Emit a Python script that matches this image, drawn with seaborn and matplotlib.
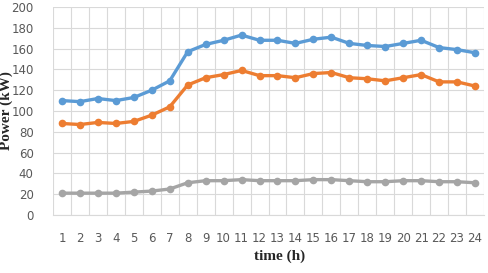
import pandas as pd
import seaborn as sns
import matplotlib.pyplot as plt
import numpy as np

hours = list(range(1, 25))
blue = [110, 109, 112, 110, 113, 120, 129, 157, 164, 168, 173, 168,
        168, 165, 169, 171, 165, 163, 162, 165, 168, 161, 159, 156]
orange = [88, 87, 89, 88, 90, 96, 104, 125, 132, 135, 139, 134,
          134, 132, 136, 137, 132, 131, 129, 132, 135, 128, 128, 124]
grey = [21, 21, 21, 21, 22, 23, 25, 31, 33, 33, 34, 33,
        33, 33, 34, 34, 33, 32, 32, 33, 33, 32, 32, 31]

df = pd.DataFrame({
    "hour": hours * 3,
    "power": blue + orange + grey,
    "series": ["a"] * 24 + ["b"] * 24 + ["c"] * 24,
})

sns.set_style("white")
fig = plt.figure(figsize=(4.88, 2.73), dpi=100)
ax = fig.add_axes([53 / 488, 1 - 215 / 273, 431 / 488, 208 / 273])

sns.lineplot(
    data=df, x="hour", y="power", hue="series",
    palette=["#5B9BD5", "#ED7D31", "#A5A5A5"],
    marker="o", markersize=5.5, markeredgewidth=0, linewidth=2.4,
    legend=False, ax=ax, zorder=3,
)

ax.set_xlim(0.5, 24.5)
ax.set_ylim(0, 200)
ax.set_yticks(range(0, 201, 20))
ax.set_xticks(hours)
ax.set_xticks(np.arange(0.5, 25, 1), minor=True)
ax.grid(True, which="minor", axis="x", color="#D9D9D9", linewidth=0.8)
ax.grid(True, which="major", axis="y", color="#D9D9D9", linewidth=0.8)
ax.tick_params(axis="both", which="both", length=0, labelsize=8.5,
               labelcolor="#595959")
ax.tick_params(axis="x", pad=12)
ax.tick_params(axis="y", pad=14)

for s in ["top", "right", "left"]:
    ax.spines[s].set_visible(False)
ax.spines["bottom"].set_color("#D9D9D9")

ax.set_xlabel("time (h)", family="Liberation Serif", fontweight="bold",
              fontsize=11)
ax.set_ylabel("Power (kW)", family="Liberation Serif", fontweight="bold",
              fontsize=11)
ax.xaxis.set_label_coords(0.5 + 11 / 431, -0.165)
ax.yaxis.set_label_coords(-0.093, 0.5)

plt.savefig("out.png", dpi=100)
